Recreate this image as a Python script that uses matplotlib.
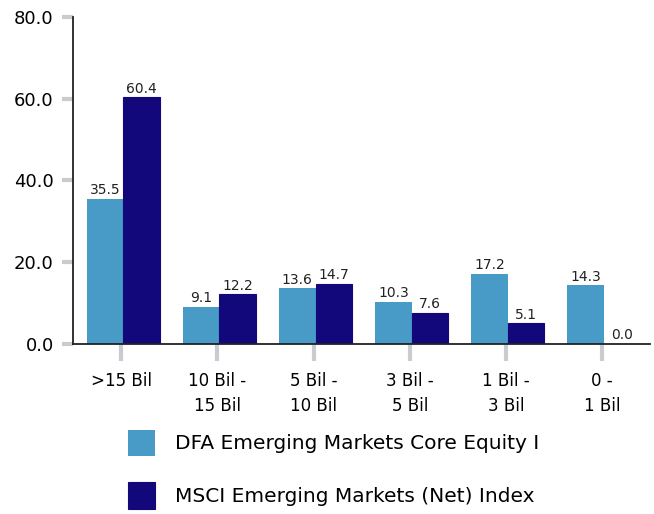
import numpy as np
import matplotlib
matplotlib.use("Agg")
import matplotlib.pyplot as plt

categories = [">15 Bil", "10 Bil -\n15 Bil", "5 Bil -\n10 Bil", "3 Bil -\n5 Bil", "1 Bil -\n3 Bil", "0 -\n1 Bil"]
fund_values = [35.5, 9.1, 13.6, 10.3, 17.2, 14.3]
index_values = [60.4, 12.2, 14.7, 7.6, 5.1, 0.0]
series_names = ["DFA Emerging Markets Core Equity I", "MSCI Emerging Markets (Net) Index"]
y_ticks = [0, 20, 40, 60, 80]

LIGHT = "#489bc7"
DARK = "#13077c"

plt.rcParams["font.family"] = ["DejaVu Sans"]

fig = plt.figure(figsize=(6.54, 5.14), dpi=100)
ax = fig.add_axes([0.112, 0.331, 0.882, 0.636])

x = np.arange(len(categories))
w = 0.38
b1 = ax.bar(x - w / 2 + 0.02, fund_values, w, color=LIGHT, label=series_names[0])
b2 = ax.bar(x + w / 2 + 0.02, index_values, w, color=DARK, edgecolor=DARK,
            linewidth=0.8, label=series_names[1])

for bars, vals in ((b1, fund_values), (b2, index_values)):
    for rect, v in zip(bars, vals):
        ax.annotate(f"{v:.1f}", (rect.get_x() + rect.get_width() / 2, v),
                    xytext=(0, 1), textcoords="offset points",
                    ha="center", va="bottom", fontsize=10, color="#222222")

ax.set_xlim(-0.5, 5.5)
ax.set_ylim(0, 80)
ax.set_yticks(y_ticks)
ax.set_yticklabels([f"{t:.1f}" for t in y_ticks], fontsize=13)
ax.set_xticks(x)
ax.set_xticklabels(categories, fontsize=12, linespacing=1.5)

for side in ("top", "right"):
    ax.spines[side].set_visible(False)
for side in ("left", "bottom"):
    ax.spines[side].set_color("#222222")
    ax.spines[side].set_linewidth(1.3)
    ax.spines[side].set_zorder(3)

ax.tick_params(axis="y", length=8, width=3, color="#c8cbcf", pad=6)
ax.tick_params(axis="x", length=12, width=3, color="#c8cbcf", pad=8)

fig.legend(loc="upper left", bbox_to_anchor=(0.184, 0.18), frameon=False,
           fontsize=14.5, handlelength=1.3, handleheight=1.65,
           labelspacing=1.3, handletextpad=1.0, borderaxespad=0)

fig.savefig("out.png", dpi=100)
